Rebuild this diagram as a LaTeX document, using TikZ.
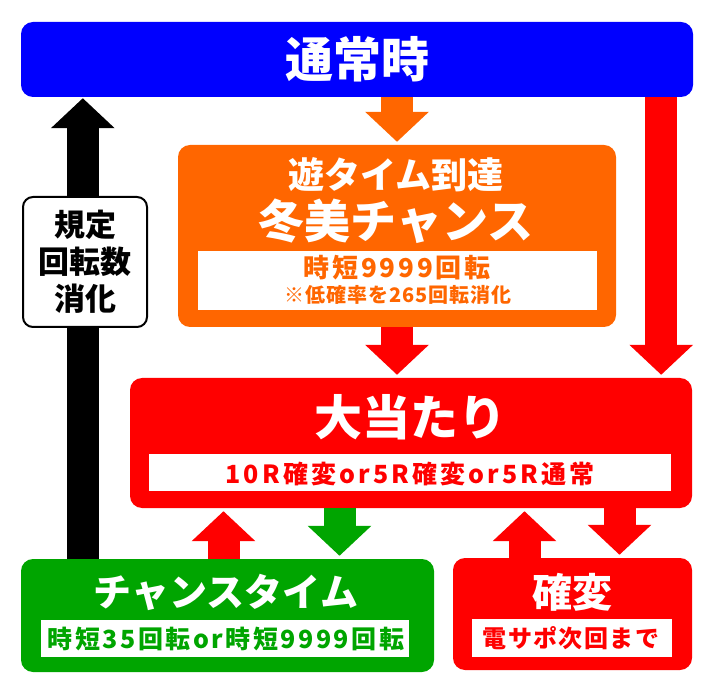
\documentclass[tikz,border=0pt]{standalone}
\usepackage{fontspec}
\newfontfamily\jp{Noto Sans CJK JP}
\usetikzlibrary{arrows.meta}

\definecolor{normalblue}{RGB}{0,0,255}
\definecolor{yuuorange}{RGB}{255,102,0}
\definecolor{hitred}{RGB}{255,0,0}
\definecolor{chancegreen}{RGB}{0,165,0}

\begin{document}
\begin{tikzpicture}[x=1pt,y=-1pt]

% definitions
\tikzstyle{box} = [rectangle, rounded corners=12pt, inner sep=0pt]

\tikzstyle{normalbox} = [box, minimum width=672pt, minimum height=75pt, fill=normalblue, text=white, font=\jp\bfseries\fontsize{48}{48}\selectfont]

\tikzstyle{orangebox} = [box, minimum width=438pt, minimum height=182pt, fill=yuuorange]

\tikzstyle{redbox} = [box, fill=hitred]

\tikzstyle{greenbox} = [box, minimum width=413pt, minimum height=113pt, fill=chancegreen]

\tikzstyle{rulebox} = [box, rounded corners=10pt, minimum width=124pt, minimum height=130pt, draw=black, line width=2pt, fill=white, align=center, font=\jp\bfseries\fontsize{31}{37}\selectfont]

\tikzstyle{strip} = [rectangle, inner sep=0pt, fill=white]

\tikzstyle{title} = [inner sep=0pt, text=white]

\tikzstyle{small} = [inner sep=0pt]

\tikzstyle{fat} = [line width=32pt, -{Triangle[width=62pt,length=30pt]}, shorten >=3pt]

\useasboundingbox (0,0) rectangle (712,692);

% the graph
\node (normal) [normalbox] at (357,59.5) {通常時};

\node (yuu) [orangebox] at (397,236) {};
\node (yuutitle) [title, font=\jp\bfseries\fontsize{36}{36}\selectfont] at (396,175) {遊タイム到達};
\node (fuyumi) [title, font=\jp\bfseries\fontsize{46}{46}\selectfont] at (396,221) {冬美チャンス};
\node (yuustrip) [strip, minimum width=399pt, minimum height=59pt] at (397.5,280.5) {};
\node (yuujitan) [small, text=yuuorange, font=\jp\bfseries\fontsize{26}{26}\selectfont\addfontfeature{LetterSpace=11}] at (397,268) {時短9999回転};
\node (yuunote) [small, text=yuuorange, font=\jp\bfseries\fontsize{20}{20}\selectfont\addfontfeature{LetterSpace=5}] at (398,295) {※低確率を265回転消化};

\node (big) [redbox, minimum width=562pt, minimum height=130pt] at (411,443) {};
\node (bigtitle) [title, font=\jp\bfseries\fontsize{48}{48}\selectfont] at (410,417) {大当たり};
\node (bigstrip) [strip, minimum width=522pt, minimum height=37pt] at (410,472.5) {};
\node (bigtext) [small, text=hitred, font=\jp\bfseries\fontsize{25}{25}\selectfont\addfontfeature{LetterSpace=12.5}] at (410,474) {10R確変or5R確変or5R通常};

\node (chance) [greenbox] at (227.5,615.5) {};
\node (chancetitle) [title, font=\jp\bfseries\fontsize{38}{38}\selectfont] at (226,592) {チャンスタイム};
\node (chancestrip) [strip, minimum width=368pt, minimum height=37pt] at (225,638.5) {};
\node (chancetext) [small, text=chancegreen, font=\jp\bfseries\fontsize{25}{25}\selectfont\addfontfeature{LetterSpace=10}] at (226,639) {時短35回転or時短9999回転};

\node (kakuhen) [redbox, minimum width=239pt, minimum height=112pt] at (572.5,614) {};
\node (kakuhentitle) [title, font=\jp\bfseries\fontsize{40}{40}\selectfont] at (572,592) {確変};
\node (kakuhenstrip) [strip, minimum width=200pt, minimum height=38pt] at (572,638) {};
\node (kakuhentext) [small, text=hitred, font=\jp\bfseries\fontsize{24}{24}\selectfont\addfontfeature{LetterSpace=6}] at (571,638) {電サポ次回まで};

\draw [fat, black, shorten >=1pt] ([xshift=62pt]chance.north west) -- ([xshift=62pt]normal.south west);
\draw [fat, yuuorange] (yuu.north |- normal.south) -- (yuu.north);
\draw [fat, hitred] (yuu.south) -- (yuu.south |- big.north);
\draw [fat, hitred] ([xshift=-32pt]normal.south east) -- ([xshift=-32pt]normal.south east |- big.north);
\draw [fat, hitred] ([xshift=-4pt]chance.north) -- ([xshift=-4pt]chance.north |- big.south);
\draw [fat, chancegreen] ([xshift=112pt]chance.north |- big.south) -- ([xshift=112pt]chance.north);
\draw [fat, hitred] ([xshift=-48pt]kakuhen.north) -- ([xshift=-48pt]kakuhen.north |- big.south);
\draw [fat, hitred] ([xshift=47pt]kakuhen.north |- big.south) -- ([xshift=47pt]kakuhen.north);

\node (rule) [rulebox] at (85,262) {規定\\回転数\\消化};

\end{tikzpicture}
\end{document}
